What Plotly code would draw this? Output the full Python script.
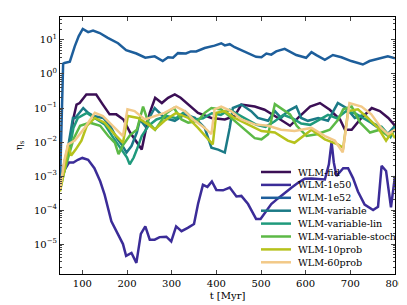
import plotly.graph_objects as go

# ---- data ----
t_fid = [50, 60, 70, 80, 87, 94, 109, 131, 146, 161, 176, 192, 207, 225, 233, 240, 251, 263, 278, 292, 307, 320, 337, 359, 389, 419, 441, 456, 486, 508, 531, 549, 565, 587, 610, 632, 654, 677, 688, 703, 722, 748, 766, 785, 800]
v_fid = [8e-4, 2e-3, 6e-3, 0.05, 0.126, 0.14, 0.25, 0.25, 0.126, 0.065, 0.065, 0.046, 0.019, 0.0085, 0.006, 0.017, 0.072, 0.2, 0.14, 0.2, 0.25, 0.2, 0.126, 0.072, 0.051, 0.046, 0.058, 0.126, 0.11, 0.089, 0.058, 0.042, 0.03, 0.058, 0.11, 0.14, 0.089, 0.046, 0.023, 0.023, 0.046, 0.1, 0.081, 0.051, 0.03]

t_1e50 = [50, 60, 70, 80, 90, 100, 113, 127, 140, 150, 165, 180, 191, 198, 210, 221, 231, 241, 251, 262, 273, 288, 299, 310, 322, 336, 350, 359, 370, 380, 390, 400, 415, 430, 445, 456, 471, 482, 489, 499, 508, 523, 538, 553, 568, 583, 598, 613, 628, 643, 652, 658, 663, 669, 684, 695, 706, 717, 732, 751, 762, 770, 780, 791, 800]
v_1e50 = [6.3e-4, 1.5e-3, 2.5e-3, 2.5e-3, 3e-3, 3.4e-3, 3e-3, 1.7e-3, 7e-4, 2.8e-4, 4.7e-5, 2e-5, 1e-5, 4.5e-6, 5.5e-6, 2.8e-6, 2e-5, 3.3e-5, 1.35e-5, 1.35e-5, 1.6e-5, 1.65e-5, 1.2e-5, 3.3e-5, 2.4e-5, 3e-5, 3.9e-5, 1.5e-4, 5.5e-4, 4.8e-4, 6.9e-4, 3.9e-4, 3.8e-4, 4.6e-4, 2.5e-4, 2.6e-4, 1.5e-4, 8.1e-5, 5.5e-5, 5.5e-5, 8.1e-5, 1.5e-4, 2.2e-4, 3.2e-4, 4.5e-4, 6.3e-4, 8.3e-4, 8.5e-4, 8.3e-4, 7.9e-4, 2.2e-3, 1e-2, 2.5e-3, 1e-3, 1.7e-3, 1.7e-3, 8.7e-4, 3.5e-4, 1.45e-4, 1e-4, 1.25e-4, 2e-3, 1.4e-3, 1.2e-4, 1e-3]

t_1e52 = [50, 57, 60, 72, 83, 92, 101, 113, 124, 139, 157, 180, 198, 221, 241, 262, 280, 292, 303, 314, 332, 343, 355, 374, 396, 411, 419, 430, 441, 463, 489, 501, 512, 523, 534, 553, 579, 601, 613, 624, 643, 661, 680, 702, 728, 743, 765, 784, 800]
v_1e52 = [6e-4, 2.0, 2.1, 2.3, 6.5, 13, 21, 17, 19, 16, 11.5, 8, 5, 4, 3, 3.3, 2.4, 3.1, 3.0, 4.1, 4.0, 4.6, 4.6, 5.8, 6.8, 8, 6.9, 7.5, 6.1, 4.6, 3.2, 3.1, 4.0, 3.7, 4.6, 5.5, 3.6, 3.0, 4.4, 3.6, 2.6, 3.6, 3.1, 2.4, 1.9, 2.4, 2.8, 3.3, 2.9]

t_var = [50, 60, 70, 79, 84, 102, 113, 125, 147, 162, 177, 188, 199, 210, 222, 229, 240, 262, 284, 307, 329, 352, 374, 389, 404, 419, 430, 437, 456, 478, 493, 516, 531, 545, 560, 579, 590, 605, 628, 650, 672, 691, 710, 732, 751, 769, 784, 800]
v_var = [6.3e-4, 2.5e-3, 0.01, 0.051, 0.051, 0.1, 0.072, 0.058, 0.051, 0.03, 0.013, 0.0085, 0.0049, 0.0076, 0.019, 0.046, 0.03, 0.1, 0.051, 0.042, 0.065, 0.051, 0.026, 0.0068, 0.006, 0.0049, 0.026, 0.1, 0.126, 0.081, 0.051, 0.042, 0.081, 0.051, 0.081, 0.11, 0.051, 0.042, 0.051, 0.042, 0.14, 0.1, 0.051, 0.065, 0.033, 0.023, 0.017, 0.03]

t_lin = [50, 60, 70, 80, 90, 110, 130, 150, 170, 185, 200, 206, 215, 222, 233, 248, 266, 289, 310, 330, 350, 370, 390, 410, 430, 450, 470, 490, 510, 530, 550, 570, 590, 610, 630, 650, 670, 690, 710, 730, 750, 770, 790, 800]
v_lin = [4e-4, 1.5e-3, 5e-3, 0.026, 0.051, 0.072, 0.05, 0.033, 0.013, 0.0068, 0.0035, 0.0022, 0.0035, 0.006, 0.015, 0.03, 0.046, 0.058, 0.05, 0.08, 0.045, 0.05, 0.07, 0.063, 0.089, 0.063, 0.045, 0.032, 0.028, 0.04, 0.063, 0.05, 0.035, 0.032, 0.045, 0.063, 0.05, 0.08, 0.07, 0.05, 0.035, 0.028, 0.014, 0.025]

t_stoch = [50, 60, 70, 80, 95, 117, 140, 158, 173, 181, 192, 207, 222, 236, 248, 263, 274, 289, 305, 322, 337, 359, 374, 389, 411, 433, 463, 486, 501, 516, 531, 549, 565, 580, 602, 625, 654, 673, 684, 703, 722, 744, 766, 785, 800]
v_stoch = [5e-4, 1.5e-3, 4e-3, 0.012, 0.03, 0.037, 0.03, 0.015, 0.0095, 0.0044, 0.0085, 0.016, 0.023, 0.11, 0.037, 0.023, 0.037, 0.072, 0.1, 0.046, 0.037, 0.042, 0.072, 0.1, 0.091, 0.051, 0.023, 0.013, 0.012, 0.017, 0.13, 0.091, 0.065, 0.03, 0.015, 0.017, 0.023, 0.046, 0.091, 0.11, 0.037, 0.019, 0.023, 0.015, 0.023]

t_10p = [50, 60, 68, 75, 85, 98, 110, 128, 150, 172, 191, 202, 225, 247, 262, 284, 310, 337, 359, 381, 392, 400, 419, 441, 471, 501, 531, 560, 575, 613, 643, 672, 684, 695, 717, 739, 762, 780, 792, 800]
v_10p = [3.5e-4, 1.5e-3, 8e-3, 4e-3, 6e-3, 0.011, 0.03, 0.051, 0.037, 0.017, 0.0095, 0.058, 0.051, 0.033, 0.023, 0.042, 0.072, 0.051, 0.026, 0.012, 0.0085, 0.072, 0.081, 0.051, 0.033, 0.021, 0.019, 0.011, 0.0095, 0.023, 0.012, 0.0085, 0.0068, 0.081, 0.091, 0.051, 0.026, 0.011, 0.019, 0.013]

t_60p = [50, 60, 68, 83, 105, 128, 146, 172, 191, 201, 217, 240, 262, 284, 310, 329, 352, 374, 389, 396, 411, 433, 456, 486, 516, 545, 575, 613, 643, 665, 683, 698, 725, 747, 769, 784, 800]
v_60p = [4e-4, 3e-3, 8.5e-3, 0.011, 0.026, 0.072, 0.058, 0.026, 0.015, 0.091, 0.081, 0.046, 0.058, 0.072, 0.11, 0.081, 0.042, 0.026, 0.017, 0.091, 0.11, 0.081, 0.046, 0.033, 0.03, 0.023, 0.021, 0.026, 0.015, 0.011, 0.005, 0.14, 0.11, 0.065, 0.026, 0.017, 0.023]

names = ["WLM-fid", "WLM-1e50", "WLM-1e52", "WLM-variable", "WLM-variable-lin",
         "WLM-variable-stoch", "WLM-10prob", "WLM-60prob"]
colors = ["#3b0f55", "#3b2c98", "#1d5e9b", "#1b7a86", "#1f9a7c", "#5cb946", "#b6c21c", "#f2c987"]
series_t = [t_fid, t_1e50, t_1e52, t_var, t_lin, t_stoch, t_10p, t_60p]
series_v = [v_fid, v_1e50, v_1e52, v_var, v_lin, v_stoch, v_10p, v_60p]

x_ticks = [100, 200, 300, 400, 500, 600, 700, 800]
y_tick_vals = [1e-5, 1e-4, 1e-3, 1e-2, 1e-1, 1e0, 1e1]
y_tick_text = ["10<sup>−5</sup>", "10<sup>−4</sup>", "10<sup>−3</sup>", "10<sup>−2</sup>",
               "10<sup>−1</sup>", "10<sup>0</sup>", "10<sup>1</sup>"]

minor_y = [m * 10.0 ** e for e in range(-6, 2) for m in range(2, 10)]

fig = go.Figure()
for n, c, tt, vv in zip(names, colors, series_t, series_v):
    fig.add_trace(go.Scatter(x=tt, y=vv, mode="lines", name=n,
                             line=dict(color=c, width=2.5), showlegend=False))

font_fam = "DejaVu Serif"

# ---- legend drawn in paper coordinates (matplotlib-like, compact rows) ----
PLOT_L, PLOT_R, PLOT_T, PLOT_B = 52, 387, 9, 266
pw, ph = PLOT_R - PLOT_L, PLOT_B - PLOT_T
leg_x0 = (253 - PLOT_L) / pw
leg_x1 = (283 - PLOT_L) / pw
leg_tx = (288 - PLOT_L) / pw
row0, row_step = 164.0, 12.9
for i, (n, c) in enumerate(zip(names, colors)):
    yp = (PLOT_B - (row0 + i * row_step)) / ph
    fig.add_shape(type="line", xref="paper", yref="paper",
                  x0=leg_x0, x1=leg_x1, y0=yp, y1=yp,
                  line=dict(color=c, width=2.5))
    fig.add_annotation(text=n, xref="paper", yref="paper", x=leg_tx, y=yp,
                       xanchor="left", yanchor="middle", showarrow=False,
                       font=dict(family=font_fam, size=9.6, color="black"))

fig.update_layout(
    width=407, height=305,
    margin=dict(l=PLOT_L, r=407 - PLOT_R, t=PLOT_T, b=305 - PLOT_B),
    paper_bgcolor="white", plot_bgcolor="white",
    font=dict(family=font_fam, size=10, color="black"),
    showlegend=False,
)
fig.update_xaxes(
    range=[50, 800], tickvals=x_ticks, ticks="inside", ticklen=4,
    showline=True, linecolor="black", linewidth=1, mirror="allticks",
    showgrid=False, zeroline=False,
    title=dict(text="t [Myr]", standoff=3, font=dict(size=10)),
    tickfont=dict(size=10),
)
fig.update_yaxes(
    type="log", range=[-5.88, 1.675], tickvals=y_tick_vals, ticktext=y_tick_text,
    ticks="inside", ticklen=4,
    showline=True, linecolor="black", linewidth=1, mirror="allticks",
    showgrid=False, zeroline=False,
    minor=dict(tickvals=minor_y, ticks="inside", ticklen=2, showgrid=False),
    title=dict(text="η<sub>s</sub>", standoff=9, font=dict(size=10)),
    tickfont=dict(size=10),
)
fig.write_html("out.html")
